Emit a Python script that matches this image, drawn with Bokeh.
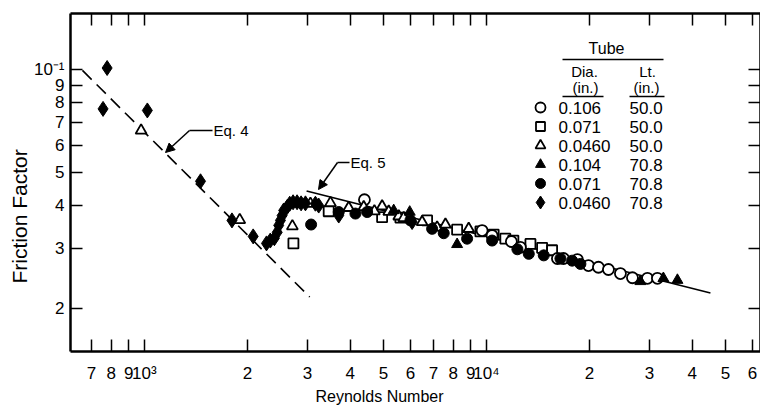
import math
from bokeh.plotting import figure
from bokeh.models import (Label, Arrow, NormalHead, LogAxis, FixedTicker,
                          CustomJSTickFormatter, Title)
from bokeh.embed import file_html
from bokeh.resources import INLINE

# ---------------- data (Reynolds number, friction factor) ----------------
# open circles: Dia 0.106 in, Lt 50.0 in
c106_re = [4399, 9714, 10390, 11830, 12570, 16130, 16800, 18450, 19880, 21260,
           22740, 24650, 26730, 29570, 31620]
c106_f = [0.0416, 0.0338, 0.0327, 0.0314, 0.0302, 0.0280, 0.0280, 0.0278, 0.0267,
          0.0264, 0.0260, 0.0253, 0.0246, 0.0245, 0.0245]
# open squares: Dia 0.071, Lt 50.0
s071_re = [2727, 3458, 4955, 5604, 6708, 8210, 9605, 10500, 11360, 11990, 13450,
           14550, 15560]
s071_f = [0.0310, 0.0385, 0.0370, 0.0369, 0.0362, 0.0340, 0.0336, 0.0329, 0.0320,
          0.0316, 0.0309, 0.0301, 0.0296]
# open triangles: Dia 0.0460, Lt 50.0
t046_re = [978, 1900, 2708, 3058, 3499, 3957, 4378, 4704, 4955, 5181, 5541, 5731,
           6486, 7175, 7589, 8876]
t046_f = [0.0663, 0.0363, 0.0348, 0.0405, 0.0407, 0.0394, 0.0396, 0.0385, 0.0398,
          0.0384, 0.0372, 0.0368, 0.0358, 0.0345, 0.0352, 0.0342]
# filled triangles: Dia 0.104, Lt 70.8
ft104_re = [5357, 5967, 8210, 28200, 32920, 36180]
ft104_f = [0.0387, 0.0383, 0.0308, 0.0240, 0.0245, 0.0242]
# filled circles: Dia 0.071, Lt 70.8
fc071_re = [3072, 3700, 4140, 4480, 5995, 6938, 7502, 8781, 10390, 12320, 13300,
            14710, 16460, 17810, 18830]
fc071_f = [0.0352, 0.0383, 0.0379, 0.0383, 0.0362, 0.0342, 0.0332, 0.0320, 0.0316,
           0.0298, 0.0289, 0.0286, 0.0280, 0.0276, 0.0270]
# filled diamonds: Dia 0.0460, Lt 70.8
fd046_re = [778, 757, 1020, 1459, 1803, 2080, 2275, 2334, 2399, 2445, 2470, 2499,
            2527, 2554, 2614, 2660, 2721, 2795, 2872, 2957, 3162, 3233, 3700, 6063]
fd046_f = [0.101, 0.0767, 0.0759, 0.0471, 0.0362, 0.0325, 0.0310, 0.0316, 0.0321,
           0.0334, 0.0350, 0.0362, 0.0374, 0.0387, 0.0396, 0.0405, 0.0409, 0.0409,
           0.0406, 0.0406, 0.0405, 0.0400, 0.0374, 0.0358]

# correlation lines
eq4_re = [659, 3043]
eq4_f = [0.0994, 0.0216]
eq5_re = [2980, 45190]
eq5_f = [0.0441, 0.0222]

# ticks
x_ticks = [700, 800, 900, 1000, 2000, 3000, 4000, 5000, 6000, 7000, 8000, 9000,
           10000, 20000, 30000, 40000, 50000, 60000]
x_tick_labels = ["7", "8", "9", "10\u00b3", "2", "3", "4", "5", "6", "7", "8", "9",
                 "10\u2074", "2", "3", "4", "5", "6"]
y_ticks = [0.02, 0.03, 0.04, 0.05, 0.06, 0.07, 0.08, 0.09, 0.1]
y_tick_labels = ["2", "3", "4", "5", "6", "7", "8", "9", "10\u207b\u00b9"]

legend_dia = ["0.106", "0.071", "0.0460", "0.104", "0.071", "0.0460"]
legend_lt = ["50.0", "50.0", "50.0", "70.8", "70.8", "70.8"]

# ---------------- figure ----------------
XS, XE = 608.0, 63300.0
YS, YE = 0.01497, 0.1458
FL, FT, FW, FH = 70, 13, 690, 338   # frame position in picture pixels


def dx(px):
    a, b = math.log10(XS), math.log10(XE)
    return 10 ** (a + (px - FL) / FW * (b - a))


def dy(py):
    a, b = math.log10(YS), math.log10(YE)
    return 10 ** (b - (py - FT) / FH * (b - a))


FONT = "Liberation Sans"

p = figure(x_axis_type="log", y_axis_type="log", x_range=(XS, XE),
           y_range=(YS, YE), frame_width=FW, frame_height=FH,
           min_border_left=FL, min_border_top=FT, min_border_right=0,
           min_border_bottom=56, output_backend="svg", toolbar_location=None)
p.outline_line_color = None
p.xgrid.visible = False
p.ygrid.visible = False
p.background_fill_color = "white"
p.border_fill_color = "white"


def style_axis(ax, ticks, labels=None):
    ax.ticker = FixedTicker(ticks=ticks)
    ax.axis_line_width = 2.5
    ax.axis_line_color = "black"
    ax.major_tick_in = 12
    ax.major_tick_out = 0
    ax.major_tick_line_width = 1.5
    ax.major_tick_line_color = "black"
    ax.minor_tick_line_color = None
    ax.major_label_text_font = FONT
    ax.major_label_text_color = "black"
    if labels is None:
        ax.formatter = CustomJSTickFormatter(code="return ''")
        ax.major_label_text_font_size = "0px"
        ax.major_label_standoff = 0
    else:
        ax.major_label_overrides = dict(zip(ticks, labels))
        ax.major_label_text_font_size = "17px"


style_axis(p.xaxis[0], x_ticks, x_tick_labels)
p.xaxis[0].major_label_standoff = 12
style_axis(p.yaxis[0], y_ticks, y_tick_labels)
p.yaxis[0].major_label_standoff = 6

top = LogAxis()
style_axis(top, x_ticks)
p.add_layout(top, "above")
right = LogAxis()
style_axis(right, y_ticks)
p.add_layout(right, "right")

# axis titles (placed as side titles so they can be offset like the original)
p.add_layout(Title(text="Reynolds Number", align="left", offset=245,
                   text_font=FONT, text_font_size="16px", text_color="black",
                   text_font_style="normal", standoff=0), "below")
p.add_layout(Title(text="Friction Factor", align="left", offset=68,
                   text_font=FONT, text_font_size="21px", text_color="black",
                   text_font_style="normal", standoff=0), "left")

# ---------------- lines ----------------
p.line(eq4_re, eq4_f, line_color="black", line_width=1.6, line_dash="13 7")
p.line(eq5_re, eq5_f, line_color="black", line_width=1.6)

# ---------------- markers ----------------
OPEN = dict(fill_color="white", line_color="black", line_width=1.8)
FILL = dict(fill_color="black", line_color="black", line_width=1)
p.scatter(s071_re, s071_f, marker="square", size=10, **OPEN)
p.scatter(c106_re, c106_f, marker="circle", size=11, **OPEN)
p.scatter(t046_re, t046_f, marker="triangle", size=11, **OPEN)
p.scatter(fc071_re, fc071_f, marker="circle", size=11, **FILL)
p.scatter(ft104_re, ft104_f, marker="triangle", size=11, **FILL)
p.scatter(fd046_re, fd046_f, marker="diamond", size=15, **FILL)


# ---------------- text helper ----------------
def txt(x, y, s, size="16px", align="left"):
    p.add_layout(Label(x=dx(x), y=dy(y), text=s, text_font=FONT,
                       text_font_size=size, text_align=align,
                       text_color="black", text_baseline="middle"))


def hline(x0, x1, y):
    p.line([dx(x0), dx(x1)], [dy(y), dy(y)], line_color="black", line_width=1.5)


# ---------------- equation labels ----------------
def leader(x0, y0, x1, xt, yt):
    hline(x0, x1, y0)
    p.add_layout(Arrow(end=NormalHead(size=9, fill_color="black", line_color="black"),
                       x_start=dx(x0), y_start=dy(y0), x_end=dx(xt), y_end=dy(yt),
                       line_color="black", line_width=1.5))


leader(189, 130, 212, 165, 152)
txt(213, 130, "Eq. 4", size="15px")
leader(337, 162, 349, 318, 189)
txt(350, 162, "Eq. 5", size="15px")

# ---------------- legend table ----------------
txt(606, 48, "Tube", align="center")
hline(562, 663, 59)
txt(584, 71, "Dia.", size="15px", align="center")
txt(647, 71, "Lt.", size="15px", align="center")
txt(585, 87, "(in.)", size="15px", align="center")
txt(646, 87, "(in.)", size="15px", align="center")
hline(562, 603, 96)
hline(629, 664, 96)

row_y = [107, 126, 145, 164, 183, 202]
leg_markers = [("circle", OPEN, 10), ("square", OPEN, 9), ("triangle", OPEN, 10),
               ("triangle", FILL, 10), ("circle", FILL, 10), ("diamond", FILL, 13)]
for (mk, sty, sz), yy, d, l in zip(leg_markers, row_y, legend_dia, legend_lt):
    p.scatter([dx(540)], [dy(yy)], marker=mk, size=sz, **sty)
    txt(558, yy, d, size="17px")
    txt(629, yy, l, size="17px")

open("out.html", "w").write(file_html(p, INLINE))
